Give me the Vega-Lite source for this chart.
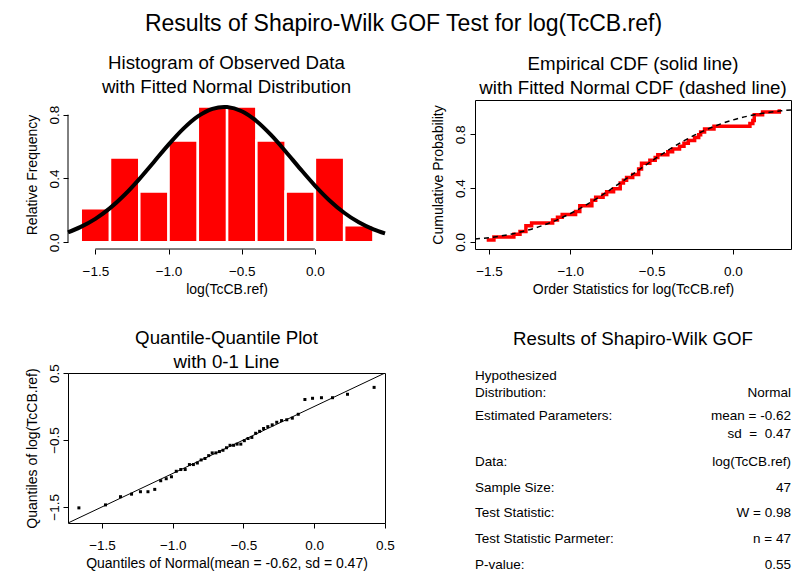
{
  "$schema": "https://vega.github.io/schema/vega-lite/v6.json",
  "padding": {"left": 24, "top": 13, "right": 0, "bottom": 0},
  "background": "white",
  "title": {"text": "Results of Shapiro-Wilk GOF Test for log(TcCB.ref)", "fontSize": 23, "fontWeight": "normal", "anchor": "middle", "color": "black", "offset": 18, "frame": "bounds", "dx": -6},
  "config": {
    "font": "Liberation Sans",
    "view": {"stroke": null},
    "title": {"fontSize": 18.7, "fontWeight": "normal", "color": "black", "lineHeight": 24, "offset": 2, "frame": "group"},
    "axis": {"grid": false, "domainColor": "black", "tickColor": "black", "tickSize": 5, "labelFontSize": 13.5, "labelColor": "black", "titleFontSize": 14, "titleFontWeight": "normal", "titleColor": "black", "labelFlush": false, "labelOverlap": false},
    "axisX": {"labelPadding": 10, "titlePadding": 5},
    "axisY": {"labelAngle": -90, "labelAlign": "center", "labelBaseline": "bottom", "labelPadding": 2, "titlePadding": 8}
  },
  "datasets": {
    "hist": [
      {"bin_start": -1.6, "bin_end": -1.4, "count": 2, "density": 0.2128},
      {"bin_start": -1.4, "bin_end": -1.2, "count": 5, "density": 0.5319},
      {"bin_start": -1.2, "bin_end": -1.0, "count": 3, "density": 0.3191},
      {"bin_start": -1.0, "bin_end": -0.8, "count": 6, "density": 0.6383},
      {"bin_start": -0.8, "bin_end": -0.6, "count": 8, "density": 0.8511},
      {"bin_start": -0.6, "bin_end": -0.4, "count": 8, "density": 0.8511},
      {"bin_start": -0.4, "bin_end": -0.2, "count": 6, "density": 0.6383},
      {"bin_start": -0.2, "bin_end": 0.0, "count": 3, "density": 0.3191},
      {"bin_start": 0.0, "bin_end": 0.2, "count": 5, "density": 0.5319},
      {"bin_start": 0.2, "bin_end": 0.4, "count": 1, "density": 0.1064}
    ],
    "pdf": [
      {"x": -1.687, "density": 0.0622},
      {"x": -1.6, "density": 0.0965},
      {"x": -1.5, "density": 0.1471},
      {"x": -1.4, "density": 0.2142},
      {"x": -1.3, "density": 0.2980},
      {"x": -1.2, "density": 0.3964},
      {"x": -1.1, "density": 0.5038},
      {"x": -1.0, "density": 0.6122},
      {"x": -0.9, "density": 0.7108},
      {"x": -0.8, "density": 0.7888},
      {"x": -0.7, "density": 0.8366},
      {"x": -0.62, "density": 0.8488},
      {"x": -0.6, "density": 0.8480},
      {"x": -0.5, "density": 0.8216},
      {"x": -0.4, "density": 0.7607},
      {"x": -0.3, "density": 0.6732},
      {"x": -0.2, "density": 0.5694},
      {"x": -0.1, "density": 0.4603},
      {"x": 0.0, "density": 0.3557},
      {"x": 0.1, "density": 0.2625},
      {"x": 0.2, "density": 0.1853},
      {"x": 0.3, "density": 0.1250},
      {"x": 0.4, "density": 0.0806},
      {"x": 0.479, "density": 0.0553}
    ],
    "cdf": [
      {"x": -1.586, "p": 0.0199},
      {"x": -1.5, "p": 0.0306},
      {"x": -1.4, "p": 0.0485},
      {"x": -1.3, "p": 0.0740},
      {"x": -1.2, "p": 0.1087},
      {"x": -1.1, "p": 0.1536},
      {"x": -1.0, "p": 0.2094},
      {"x": -0.9, "p": 0.2757},
      {"x": -0.8, "p": 0.3509},
      {"x": -0.7, "p": 0.4324},
      {"x": -0.6, "p": 0.5170},
      {"x": -0.5, "p": 0.6008},
      {"x": -0.4, "p": 0.6801},
      {"x": -0.3, "p": 0.7520},
      {"x": -0.2, "p": 0.8142},
      {"x": -0.1, "p": 0.8657},
      {"x": 0.0, "p": 0.9064},
      {"x": 0.1, "p": 0.9372},
      {"x": 0.2, "p": 0.9595},
      {"x": 0.3, "p": 0.9748},
      {"x": 0.357, "p": 0.9810}
    ],
    "obs": [
      {"i": 1, "value": -1.5141, "p": 0.0132, "q": -1.663},
      {"i": 2, "value": -1.4697, "p": 0.0344, "q": -1.475},
      {"i": 3, "value": -1.3471, "p": 0.0556, "q": -1.369},
      {"i": 4, "value": -1.3093, "p": 0.0767, "q": -1.291},
      {"i": 5, "value": -1.2730, "p": 0.0979, "q": -1.228},
      {"i": 6, "value": -1.2730, "p": 0.1190, "q": -1.175},
      {"i": 7, "value": -1.2379, "p": 0.1402, "q": -1.127},
      {"i": 8, "value": -1.1087, "p": 0.1614, "q": -1.085},
      {"i": 9, "value": -1.0788, "p": 0.1825, "q": -1.046},
      {"i": 10, "value": -1.0498, "p": 0.2037, "q": -1.009},
      {"i": 11, "value": -0.9676, "p": 0.2249, "q": -0.975},
      {"i": 12, "value": -0.9416, "p": 0.2460, "q": -0.943},
      {"i": 13, "value": -0.9416, "p": 0.2672, "q": -0.912},
      {"i": 14, "value": -0.8675, "p": 0.2884, "q": -0.882},
      {"i": 15, "value": -0.8675, "p": 0.3095, "q": -0.854},
      {"i": 16, "value": -0.8440, "p": 0.3307, "q": -0.826},
      {"i": 17, "value": -0.7985, "p": 0.3519, "q": -0.799},
      {"i": 18, "value": -0.7765, "p": 0.3730, "q": -0.772},
      {"i": 19, "value": -0.7340, "p": 0.3942, "q": -0.746},
      {"i": 20, "value": -0.6931, "p": 0.4153, "q": -0.721},
      {"i": 21, "value": -0.6931, "p": 0.4365, "q": -0.695},
      {"i": 22, "value": -0.6733, "p": 0.4577, "q": -0.670},
      {"i": 23, "value": -0.6539, "p": 0.4788, "q": -0.645},
      {"i": 24, "value": -0.6162, "p": 0.5000, "q": -0.620},
      {"i": 25, "value": -0.5798, "p": 0.5212, "q": -0.595},
      {"i": 26, "value": -0.5798, "p": 0.5423, "q": -0.570},
      {"i": 27, "value": -0.5621, "p": 0.5635, "q": -0.545},
      {"i": 28, "value": -0.5621, "p": 0.5847, "q": -0.519},
      {"i": 29, "value": -0.5108, "p": 0.6058, "q": -0.494},
      {"i": 30, "value": -0.4780, "p": 0.6270, "q": -0.468},
      {"i": 31, "value": -0.4620, "p": 0.6481, "q": -0.441},
      {"i": 32, "value": -0.4005, "p": 0.6693, "q": -0.414},
      {"i": 33, "value": -0.3711, "p": 0.6905, "q": -0.386},
      {"i": 34, "value": -0.3285, "p": 0.7116, "q": -0.358},
      {"i": 35, "value": -0.3011, "p": 0.7328, "q": -0.328},
      {"i": 36, "value": -0.2744, "p": 0.7540, "q": -0.297},
      {"i": 37, "value": -0.2357, "p": 0.7751, "q": -0.265},
      {"i": 38, "value": -0.2107, "p": 0.7963, "q": -0.231},
      {"i": 39, "value": -0.1985, "p": 0.8175, "q": -0.194},
      {"i": 40, "value": -0.1744, "p": 0.8386, "q": -0.155},
      {"i": 41, "value": -0.1165, "p": 0.8598, "q": -0.113},
      {"i": 42, "value": 0.1044, "p": 0.8810, "q": -0.066},
      {"i": 43, "value": 0.1222, "p": 0.9021, "q": -0.012},
      {"i": 44, "value": 0.1310, "p": 0.9233, "q": 0.051},
      {"i": 45, "value": 0.1310, "p": 0.9444, "q": 0.129},
      {"i": 46, "value": 0.1823, "p": 0.9656, "q": 0.235},
      {"i": 47, "value": 0.2852, "p": 0.9868, "q": 0.423}
    ],
    "refline": [
      {"x": -1.74, "y": -1.74},
      {"x": 0.5, "y": 0.5}
    ],
    "gof": [
      {"line": 0, "label": "Hypothesized", "value": ""},
      {"line": 0.66, "label": "Distribution:", "value": "Normal"},
      {"line": 1.55, "label": "Estimated Parameters:", "value": "mean = -0.62"},
      {"line": 2.25, "label": "", "value": "sd\u00a0\u00a0=\u00a0\u00a00.47"},
      {"line": 3.36, "label": "Data:", "value": "log(TcCB.ref)"},
      {"line": 4.38, "label": "Sample Size:", "value": "47"},
      {"line": 5.35, "label": "Test Statistic:", "value": "W = 0.98"},
      {"line": 6.37, "label": "Test Statistic Parmeter:", "value": "n = 47"},
      {"line": 7.38, "label": "P-value:", "value": "0.55"}
    ]
  },
  "columns": 2,
  "spacing": {"row": 124, "column": 90},
  "bounds": "flush",
  "concat": [
    {
      "width": 317,
      "height": 149,
      "title": {"text": ["Histogram of Observed Data", "with Fitted Normal Distribution"]},
      "layer": [
        {
          "data": {"name": "hist"},
          "mark": {"type": "rect", "color": "#ff0000", "stroke": "white", "strokeWidth": 2.5},
          "encoding": {
            "x": {"field": "bin_start", "type": "quantitative", "scale": {"domain": [-1.687, 0.479], "nice": false, "zero": false}, "title": "log(TcCB.ref)", "axis": {"domain": false, "values": [-1.5, -1.0, -0.5, 0.0], "format": ".1f"}},
            "x2": {"field": "bin_end"},
            "y": {"field": "density", "type": "quantitative", "scale": {"domain": [-0.042, 0.892], "nice": false, "zero": false}, "title": "Relative Frequency", "axis": {"domain": false, "values": [0, 0.2, 0.4, 0.6, 0.8], "labelExpr": "round(datum.value*10) % 4 == 0 ? format(datum.value, '.1f') : ''"}},
            "y2": {"datum": 0}
          }
        },
        {
          "data": {"name": "pdf"},
          "mark": {"type": "line", "color": "black", "strokeWidth": 4, "interpolate": "monotone"},
          "encoding": {
            "x": {"field": "x", "type": "quantitative"},
            "y": {"field": "density", "type": "quantitative"}
          }
        },
        {
          "data": {"values": [{}]},
          "mark": {"type": "rule", "color": "black", "strokeWidth": 1},
          "encoding": {"x": {"datum": -1.5}, "x2": {"datum": 0.0}, "y": {"datum": -0.042}}
        },
        {
          "data": {"values": [{}]},
          "mark": {"type": "rule", "color": "black", "strokeWidth": 1},
          "encoding": {"y": {"datum": 0.0}, "y2": {"datum": 0.8}, "x": {"datum": -1.687}}
        }
      ]
    },
    {
      "width": 316,
      "height": 149,
      "view": {"stroke": "black", "strokeWidth": 1},
      "title": {"text": ["Empirical CDF (solid line)", "with Fitted Normal CDF (dashed line)"]},
      "layer": [
        {
          "data": {"name": "obs"},
          "mark": {"type": "line", "color": "#ff0000", "strokeWidth": 3.5, "interpolate": "step-after"},
          "encoding": {
            "x": {"field": "value", "type": "quantitative", "scale": {"domain": [-1.586, 0.357], "nice": false, "zero": false}, "title": "Order Statistics for log(TcCB.ref)", "axis": {"domain": false, "values": [-1.5, -1.0, -0.5, 0.0], "format": ".1f"}},
            "y": {"field": "p", "type": "quantitative", "scale": {"domain": [-0.054, 1.055], "nice": false, "zero": false}, "title": "Cumulative Probability", "axis": {"domain": false, "labelPadding": 3, "values": [0, 0.2, 0.4, 0.6, 0.8, 1.0], "labelExpr": "round(datum.value*10) % 4 == 0 ? format(datum.value, '.1f') : ''"}},
            "order": {"field": "i"}
          }
        },
        {
          "data": {"name": "cdf"},
          "mark": {"type": "line", "color": "black", "strokeWidth": 1.5, "strokeDash": [5, 4], "interpolate": "monotone"},
          "encoding": {
            "x": {"field": "x", "type": "quantitative"},
            "y": {"field": "p", "type": "quantitative"}
          }
        }
      ]
    },
    {
      "width": 317,
      "height": 150,
      "view": {"stroke": "black", "strokeWidth": 1},
      "title": {"text": ["Quantile-Quantile Plot", "with 0-1 Line"], "offset": -8},
      "layer": [
        {
          "data": {"name": "refline"},
          "mark": {"type": "line", "color": "black", "strokeWidth": 1, "clip": true},
          "encoding": {
            "x": {"field": "x", "type": "quantitative", "scale": {"domain": [-1.74, 0.5], "nice": false, "zero": false}, "title": "Quantiles of Normal(mean = -0.62, sd = 0.47)", "axis": {"domain": false, "values": [-1.5, -1.0, -0.5, 0.0, 0.5], "format": ".1f"}},
            "y": {"field": "y", "type": "quantitative", "scale": {"domain": [-1.74, 0.5], "nice": false, "zero": false}, "title": "Quantiles of log(TcCB.ref)", "axis": {"domain": false, "values": [-1.5, -1.0, -0.5, 0.0, 0.5], "labelExpr": "(datum.value == -1.5 || datum.value == -0.5 || datum.value == 0.5) ? format(datum.value, '.1f') : ''"}}
          }
        },
        {
          "data": {"name": "obs"},
          "mark": {"type": "square", "color": "black", "filled": true, "size": 9, "opacity": 1},
          "encoding": {
            "x": {"field": "q", "type": "quantitative"},
            "y": {"field": "value", "type": "quantitative"}
          }
        }
      ]
    },
    {
      "width": 316,
      "height": 150,
      "title": {"text": "Results of Shapiro-Wilk GOF", "offset": 20},
      "data": {"name": "gof"},
      "layer": [
        {
          "mark": {"type": "text", "align": "left", "baseline": "middle", "fontSize": 13.5, "color": "black"},
          "encoding": {
            "x": {"datum": 0, "type": "quantitative", "scale": {"domain": [0, 1], "nice": false}, "axis": null},
            "y": {"field": "line", "type": "quantitative", "scale": {"domain": [-0.117, 5.742], "nice": false, "zero": false, "reverse": true}, "axis": null},
            "text": {"field": "label"}
          }
        },
        {
          "mark": {"type": "text", "align": "right", "baseline": "middle", "fontSize": 13.5, "color": "black"},
          "encoding": {
            "x": {"datum": 1, "type": "quantitative"},
            "y": {"field": "line", "type": "quantitative"},
            "text": {"field": "value"}
          }
        }
      ]
    }
  ]
}
